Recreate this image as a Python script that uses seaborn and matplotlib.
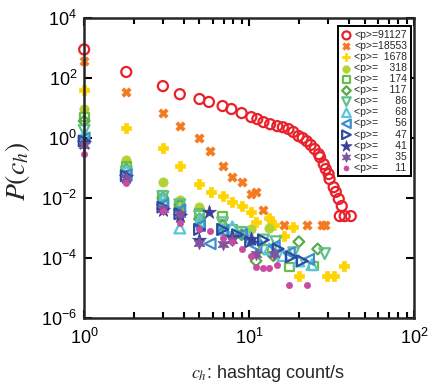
import matplotlib
matplotlib.use('Agg')
import pandas as pd
import matplotlib.pyplot as plt
import seaborn as sns

sns.set_style('ticks')
plt.rcParams['font.family'] = ['Liberation Sans', 'DejaVu Sans']
plt.rcParams['mathtext.fontset'] = 'stix'

# <p> = 91127
red_x = [1.0, 1.8, 3.0, 3.8, 5.0, 5.7, 6.9, 7.8, 9.0, 10.3, 11.2, 12.2, 13.4, 14.8, 16.0, 17.3,
         18.5, 19.9, 21.1, 22.3, 23.6, 24.9, 26.4, 26.9, 28.3, 29.1, 30.3, 30.7, 32.5, 33.5,
         34.9, 36.4, 35.4, 37.9, 41.3]
red_y = [900, 160, 54, 29, 20, 16, 11.7, 9.3, 6.8, 5.0, 4.3, 3.4, 2.9, 2.5, 2.3, 2.0,
         1.6, 1.17, 1.0, 0.79, 0.59, 0.43, 0.29, 0.23, 0.135, 0.093, 0.063, 0.043, 0.023, 0.016,
         0.0093, 0.0054, 0.0025, 0.0025, 0.0025]
# <p> = 18553
orange_x = [1.0, 1.8, 3.0, 3.8, 5.0, 5.8, 6.9, 7.9, 9.0, 10.3, 11.0, 12.2, 13.6, 16.3, 22.3, 27.5, 28.7]
orange_y = [370, 34, 6.8, 2.5, 1.0, 0.37, 0.12, 0.05, 0.034, 0.014, 0.016, 0.004, 0.0015, 0.0013,
            0.0013, 0.0013, 0.0013]
# <p> = 1678
yellow_x = [1.0, 1.8, 3.0, 3.8, 5.0, 5.85, 6.9, 7.9, 9.0, 10.3, 11.0, 13.1, 14.2, 16.3, 18.5,
            20.1, 29.5, 32.5, 37.5]
yellow_y = [40, 2.2, 0.46, 0.12, 0.029, 0.016, 0.012, 0.0074, 0.0054, 0.0034, 0.0016, 0.0022,
            0.0013, 0.00054, 0.0011, 2.5e-5, 2.5e-5, 2.5e-5, 5.4e-5]
# <p> = 318
lime_x = [1.0, 1.8, 3.0, 3.8, 5.0, 10.2, 13.1]
lime_y = [9, 0.19, 0.034, 0.0085, 0.005, 0.0009, 0.001]
# <p> = 174
sq_x = [1.0, 1.8, 3.0, 3.8, 5.0, 6.9, 7.9, 9.0, 12.2, 17.5, 24.6]
sq_y = [5, 0.11, 0.012, 0.0055, 0.003, 0.0025, 0.0009, 0.0008, 0.0002, 5e-5, 5.4e-5]
# <p> = 117
dia_x = [1.0, 1.8, 3.0, 3.8, 5.0, 6.9, 9.0, 11.0, 14.0, 20.0, 26.0]
dia_y = [3.7, 0.09, 0.01, 0.006, 0.002, 0.0012, 0.0006, 8e-5, 0.00012, 0.00035, 0.0002]
# <p> = 86
tdown_x = [1.0, 1.8, 3.0, 3.8, 5.0, 6.9, 9.0, 12.2, 14.5, 18.6, 28.7]
tdown_y = [1.8, 0.074, 0.011, 0.006, 0.0025, 0.0015, 0.0007, 0.0004, 0.00035, 0.00015, 0.00014]
# <p> = 68
tup_x = [1.0, 1.8, 3.0, 3.8, 5.0, 6.9, 7.9, 10.2, 13.2, 16.0, 20.0, 24.0]
tup_y = [1.3, 0.08, 0.009, 0.001, 0.0018, 0.0009, 0.0011, 0.0005, 0.0002, 0.00012, 8e-5, 6e-5]
# <p> = 56
tleft_x = [1.0, 1.8, 3.0, 3.8, 5.0, 5.8, 6.9, 9.0, 11.0, 14.2, 17.5, 22.9]
tleft_y = [1.0, 0.06, 0.006, 0.004, 0.0012, 0.0003, 0.0008, 0.0006, 0.00025, 0.00025, 0.00015, 9e-5]
# <p> = 47
tright_x = [1.0, 1.8, 3.0, 3.8, 5.0, 6.9, 8.5, 10.2, 12.2, 15.0, 18.0, 21.0]
tright_y = [0.8, 0.055, 0.005, 0.003, 0.0009, 0.0009, 0.0006, 0.00035, 0.0004, 0.0002, 0.00011, 8e-5]
# <p> = 41
star_x = [1.0, 1.8, 3.0, 3.8, 5.0, 5.7, 7.9, 10.2]
star_y = [0.7, 0.05, 0.004, 0.0025, 0.0004, 0.0034, 0.0005, 0.00043]
# <p> = 35
hexa_x = [1.0, 1.8, 3.0, 3.8, 5.0, 6.9, 7.9, 11.0, 14.2]
hexa_y = [0.6, 0.048, 0.0042, 0.0029, 0.00032, 0.0003, 0.0004, 0.00014, 0.00014]
# <p> = 11
pink_x = [1.0, 1.8, 3.0, 3.8, 5.0, 5.8, 6.9, 7.9, 9.0, 10.2, 11.0, 12.2, 13.2, 14.8, 17.5, 22.3]
pink_y = [0.3, 0.032, 0.0037, 0.0015, 0.0009, 0.0008, 0.00046, 0.00035, 0.0002, 0.00012, 5e-5,
          4.6e-5, 4.6e-5, 6e-5, 1.3e-5, 1.3e-5]

p_values = ['91127', '18553', '1678', '318', '174', '117', '86', '68', '56', '47', '41', '35', '11']

# (x, y, marker, colour, hollow, size)
series = [
    (red_x, red_y, 'o', '#E8212B', True, 52),
    (orange_x, orange_y, 'X', '#F47A22', False, 44),
    (yellow_x, yellow_y, 'P', '#FFD400', False, 50),
    (lime_x, lime_y, 'o', '#B3D235', False, 45),
    (sq_x, sq_y, 's', '#6BBE47', True, 40),
    (dia_x, dia_y, 'D', '#56AD46', True, 30),
    (tdown_x, tdown_y, 'v', '#62C08C', True, 60),
    (tup_x, tup_y, '^', '#59C6DC', True, 60),
    (tleft_x, tleft_y, '<', '#3C8ED2', True, 60),
    (tright_x, tright_y, '>', '#2D4CA0', True, 60),
    (star_x, star_y, '*', '#3B3E97', False, 110),
    (hexa_x, hexa_y, (6, 1, 0), '#7F559F', False, 80),
    (pink_x, pink_y, 'o', '#C94A9E', False, 20),
]

fig = plt.figure(figsize=(4.36, 3.89), dpi=100)
ax = fig.add_axes([0.193, 0.1825, 0.757, 0.771])

for (xs, ys, m, c, hollow, s), p in zip(series, p_values):
    df = pd.DataFrame({'c_h': xs, 'P': ys})
    pad = '\u2007' * (5 - len(p))
    label = '<p>=' + pad + p
    sns.scatterplot(data=df, x='c_h', y='P', ax=ax, marker=m, s=s, color=c,
                    facecolor='none' if hollow else c, edgecolor=c,
                    linewidth=1.6 if hollow else 0.5, label=label, clip_on=False)

ax.set_xscale('log')
ax.set_yscale('log')
ax.set_xlim(1, 100)
ax.set_ylim(1e-6, 1e4)
ax.set_yticks([1e-6, 1e-4, 1e-2, 1e0, 1e2, 1e4])
ax.yaxis.set_minor_locator(matplotlib.ticker.NullLocator())

for sp in ax.spines.values():
    sp.set_linewidth(1.8)
ax.tick_params(which='both', direction='in', top=True, right=True, width=1.5,
               labelsize=13, colors='black')
ax.tick_params(which='major', length=6)
ax.tick_params(which='minor', length=4)
ax.tick_params(axis='x', which='major', pad=7)
ax.tick_params(axis='y', which='major', pad=5)

ax.set_xlabel('$c_h$: hashtag count/s', fontsize=13)
ax.set_ylabel('$P(c_h)$', fontsize=20)
ax.xaxis.set_label_coords(0.555, -0.15)
ax.yaxis.set_label_coords(-0.158, 0.49)

leg = ax.legend(loc='upper right', bbox_to_anchor=(0.99, 0.972), fontsize=7.5,
                frameon=True, fancybox=False, edgecolor='black', framealpha=1,
                labelspacing=0.1, handlelength=0.9, handletextpad=0.3,
                borderpad=0.35, borderaxespad=0, markerscale=0.8)
leg.get_frame().set_linewidth(1.4)

plt.savefig('out.png', dpi=100)
